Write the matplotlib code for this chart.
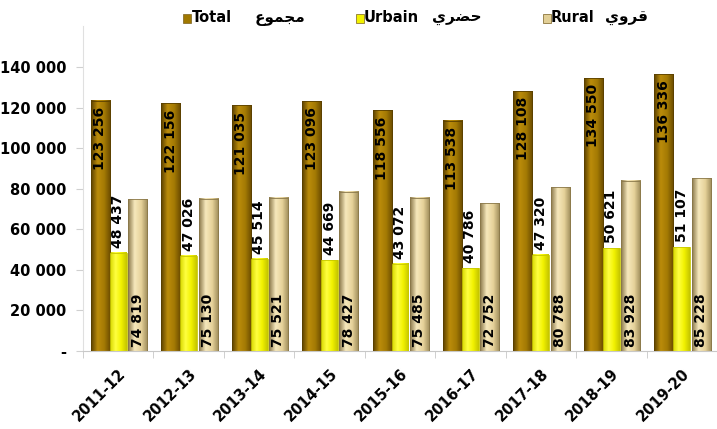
import numpy as np
import matplotlib
matplotlib.use("Agg")
import matplotlib.pyplot as plt
from matplotlib.colors import LinearSegmentedColormap
from matplotlib.patches import Rectangle

# data
years = ["2011-12", "2012-13", "2013-14", "2014-15", "2015-16",
         "2016-17", "2017-18", "2018-19", "2019-20"]
total = [123256, 122156, 121035, 123096, 118556, 113538, 128108, 134550, 136336]
urbain = [48437, 47026, 45514, 44669, 43072, 40786, 47320, 50621, 51107]
rural = [74819, 75130, 75521, 78427, 75485, 72752, 80788, 83928, 85228]

# legend labels (arabic in presentation forms, visual order)
leg_latin = ["Total", "Urbain", "Rural"]
leg_arabic = ["\uFEC9\uFEEE\uFEE4\uFEA0\uFEE3",   # مجموع
              "\uFEF1\uFEAE\uFEC0\uFEA3",         # حضري
              "\uFEF1\uFEED\uFEAE\uFED7"]         # قروي

yticks = [0, 20000, 40000, 60000, 80000, 100000, 120000, 140000]

def fmt(v):
    return "{:,}".format(v).replace(",", " ")

# gradients across each bar to get the shaded look
cm_total = LinearSegmentedColormap.from_list("t", ["#5a4000", "#bb8c0a", "#a47a04", "#684a00"])
cm_urb = LinearSegmentedColormap.from_list("u", ["#d8d800", "#ffff40", "#f2f200", "#c4c400"])
cm_rur = LinearSegmentedColormap.from_list("r", ["#8a784a", "#f6e8bc", "#e6d29a", "#9c8a58"])

fig = plt.figure(figsize=(7.17, 4.29), dpi=100)
ax = fig.add_axes([83 / 717, 78 / 429, 1 - 83 / 717, 324.6 / 429])

x = np.arange(len(years))
specs = [(total, -0.255, 0.27, cm_total, "#5a4000"),
         (urbain, 0.0, 0.24, cm_urb, "#c8c800"),
         (rural, 0.275, 0.27, cm_rur, "#8a784a")]

grad = np.linspace(0, 1, 64).reshape(1, -1)
for vals, off, w, cmap, ec in specs:
    bars = ax.bar(x + off, vals, w, color="none", edgecolor=ec, linewidth=0.6, zorder=3)
    for b in bars:
        ax.imshow(grad, cmap=cmap, aspect="auto", zorder=2,
                  extent=[b.get_x(), b.get_x() + b.get_width(), 0, b.get_height()])

# value labels
for i in range(len(years)):
    ax.text(x[i] - 0.255, total[i] - 3000, fmt(total[i]), rotation=90,
            ha="center", va="top", fontsize=10, fontweight="bold", zorder=5)
    ax.text(x[i], urbain[i] + 2500, fmt(urbain[i]), rotation=90,
            ha="center", va="bottom", fontsize=10, fontweight="bold", zorder=5)
    ax.text(x[i] + 0.275, 2000, fmt(rural[i]), rotation=90,
            ha="center", va="bottom", fontsize=10, fontweight="bold", zorder=5)

ax.set_xlim(-0.5, (717 - 83) / 71.4 - 0.5)
ax.set_ylim(0, 160000)
ax.set_yticks(yticks)
ax.set_yticklabels(["-"] + [fmt(v) for v in yticks[1:]], fontsize=10.5, fontweight="bold")
ax.set_xticks(x)
ax.set_xticklabels(years, rotation=45, ha="right", rotation_mode="anchor",
                   fontsize=10.5, fontweight="bold")
ax.set_xticks(np.arange(len(years) + 1) - 0.5, minor=True)
ax.tick_params(axis="x", which="major", length=0, pad=11)
ax.tick_params(axis="x", which="minor", length=5, color="#c8c8c8")
ax.tick_params(axis="y", length=5, color="#d0d0d0", pad=7)
for s in ["top", "right"]:
    ax.spines[s].set_visible(False)
ax.spines["left"].set_color("#e0e0e0")
ax.spines["bottom"].set_color("#c8c8c8")

# legend drawn by hand at the top
mark_x = [183, 356, 543]
latin_x = [192, 364, 551]
arab_x = [255, 432, 605]
face = ["#a07800", "#f2f200", "#e2cf96"]
for k in range(3):
    fig.patches.append(Rectangle((mark_x[k] / 717, 1 - 23 / 429), 8 / 717, 9 / 429,
                                 transform=fig.transFigure, facecolor=face[k],
                                 edgecolor="#7a6020", linewidth=0.5))
    fig.text(latin_x[k] / 717, 1 - 18 / 429, leg_latin[k], fontsize=10.5,
             fontweight="bold", va="center", ha="left")
    fig.text(arab_x[k] / 717, 1 - 18 / 429, leg_arabic[k], fontsize=11,
             fontweight="bold", va="center", ha="left")

fig.savefig("out.png", dpi=100)
